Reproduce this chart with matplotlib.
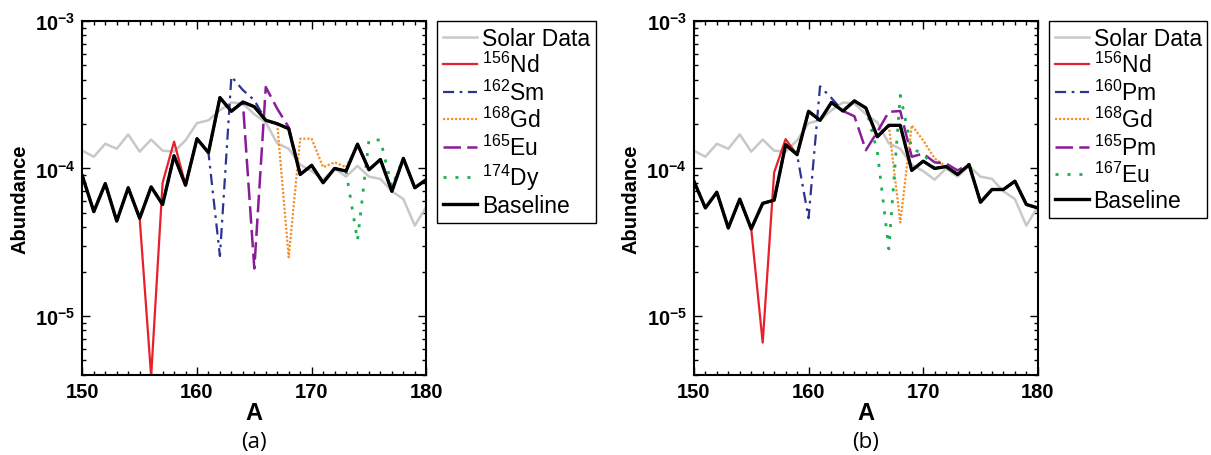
import numpy as np
import matplotlib
matplotlib.use("Agg")
from matplotlib import pyplot as plt
from matplotlib.ticker import FixedLocator, FixedFormatter, MultipleLocator, LogLocator, NullFormatter

plt.rcParams['font.family'] = ['Liberation Sans', 'DejaVu Sans']
plt.rcParams['mathtext.fontset'] = 'custom'
plt.rcParams['mathtext.rm'] = 'Liberation Sans'
plt.rcParams['mathtext.bf'] = 'Liberation Sans:bold'
plt.rcParams['mathtext.default'] = 'regular'

# mass numbers
A = np.arange(150, 181)

# solar abundances (same in both panels)
solar = [1.32e-4, 1.20e-4, 1.47e-4, 1.36e-4, 1.70e-4, 1.30e-4, 1.57e-4, 1.32e-4, 1.30e-4, 1.55e-4,
         2.03e-4, 2.12e-4, 2.48e-4, 2.80e-4, 2.75e-4, 2.33e-4, 2.05e-4, 1.48e-4, 1.36e-4, 1.06e-4,
         9.6e-5, 8.4e-5, 1.0e-4, 8.8e-5, 1.04e-4, 8.8e-5, 8.5e-5, 7.0e-5, 6.2e-5, 4.1e-5, 5.5e-5]

# panel (a) baseline
base_a = [8.9e-5, 5.1e-5, 7.9e-5, 4.4e-5, 7.4e-5, 4.6e-5, 7.5e-5, 5.7e-5, 1.22e-4, 7.7e-5,
          1.59e-4, 1.28e-4, 3.02e-4, 2.44e-4, 2.82e-4, 2.62e-4, 2.12e-4, 2.01e-4, 1.86e-4, 9.1e-5,
          1.05e-4, 8.0e-5, 1.0e-4, 9.6e-5, 1.46e-4, 9.8e-5, 1.15e-4, 7.0e-5, 1.17e-4, 7.4e-5, 8.4e-5]

# panel (a) variations: mass number -> abundance where it differs from baseline
nd156_a = {156: 3.9e-6, 157: 8.0e-5, 158: 1.52e-4}
sm162_a = {162: 2.55e-5, 163: 4.2e-4, 164: 3.4e-4, 165: 2.9e-4}
gd168_a = {168: 2.5e-5, 169: 1.59e-4, 170: 1.59e-4, 171: 1.02e-4, 172: 1.1e-4, 173: 1.02e-4}
eu165_a = {165: 2.1e-5, 166: 3.56e-4, 167: 2.54e-4, 168: 1.9e-4}
dy174_a = {174: 3.25e-5, 175: 1.56e-4, 176: 1.56e-4, 177: 7.5e-5}

# panel (b) baseline
base_b = [8.2e-5, 5.4e-5, 6.9e-5, 3.95e-5, 6.2e-5, 3.9e-5, 5.8e-5, 6.1e-5, 1.45e-4, 1.24e-4,
          2.44e-4, 2.12e-4, 2.8e-4, 2.45e-4, 2.87e-4, 2.57e-4, 1.64e-4, 1.96e-4, 1.96e-4, 9.7e-5,
          1.12e-4, 1.0e-4, 1.03e-4, 9.1e-5, 1.06e-4, 5.9e-5, 7.2e-5, 7.2e-5, 8.2e-5, 5.7e-5, 5.4e-5]

nd156_b = {156: 6.6e-6, 157: 9.4e-5, 158: 1.58e-4}
pm160_b = {160: 4.6e-5, 161: 3.6e-4, 162: 3.0e-4}
gd168_b = {168: 4.3e-5, 169: 1.96e-4, 170: 1.55e-4, 171: 1.17e-4}
pm165_b = {164: 2.26e-4, 165: 1.33e-4, 166: 1.77e-4, 167: 2.42e-4, 168: 2.45e-4, 169: 1.2e-4,
           170: 1.26e-4, 171: 1.1e-4, 172: 1.08e-4, 173: 9.7e-5, 174: 1.07e-4}
eu167_b = {166: 1.3e-4, 167: 2.85e-5, 168: 3.13e-4, 169: 1.36e-4, 170: 1.26e-4}

labels_a = ['Solar Data', r'$^{156}$Nd', r'$^{162}$Sm', r'$^{168}$Gd', r'$^{165}$Eu', r'$^{174}$Dy', 'Baseline']
labels_b = ['Solar Data', r'$^{156}$Nd', r'$^{160}$Pm', r'$^{168}$Gd', r'$^{165}$Pm', r'$^{167}$Eu', 'Baseline']

gray = '#c8c8c8'
red = '#e8202a'
blue = '#2b3590'
orange = '#f5902a'
purple = '#8a1c9a'
green = '#1db052'


def vary(base, changes):
    out = list(base)
    for a, v in changes.items():
        out[a - 150] = v
    return out


def draw(ax, base, variants, labels, tag):
    ax.plot(A, solar, color=gray, lw=1.8, label=labels[0])
    styles = [dict(color=red, lw=1.6, ls='-'),
              dict(color=blue, lw=1.6, dashes=(5, 2.5, 1.2, 2.5)),
              dict(color=orange, lw=1.6, dashes=(1.0, 0.8)),
              dict(color=purple, lw=1.8, dashes=(7, 2.5)),
              dict(color=green, lw=2.0, dashes=(1.1, 3.2))]
    for changes, lab, st in zip(variants, labels[1:6], styles):
        ax.plot(A, vary(base, changes), label=lab, **st)
    ax.plot(A, base, color='black', lw=2.4, label=labels[6])

    ax.set_yscale('log')
    ax.set_xlim(150, 180)
    ax.set_ylim(4e-6, 1e-3)
    ax.xaxis.set_major_locator(FixedLocator([150, 160, 170, 180]))
    ax.xaxis.set_minor_locator(MultipleLocator(1))
    ax.yaxis.set_major_locator(FixedLocator([1e-5, 1e-4, 1e-3]))
    ax.yaxis.set_major_formatter(FixedFormatter([r'$\mathbf{10^{-5}}$', r'$\mathbf{10^{-4}}$', r'$\mathbf{10^{-3}}$']))
    ax.yaxis.set_minor_locator(LogLocator(base=10, subs=np.arange(2, 10)))
    ax.yaxis.set_minor_formatter(NullFormatter())
    ax.tick_params(which='both', direction='in', top=True, right=True, width=1)
    ax.tick_params(which='major', length=6, labelsize=14.5, pad=5)
    ax.tick_params(which='minor', length=3)
    for t in ax.get_xticklabels():
        t.set_fontweight('bold')
    for s in ax.spines.values():
        s.set_linewidth(1.5)
    ax.set_xlabel('A', fontsize=17, fontweight='bold', labelpad=0)
    ax.set_ylabel('Abundance', fontsize=14.5, fontweight='bold', labelpad=4)
    ax.text(0.5, -0.19, tag, transform=ax.transAxes, ha='center', va='center',
            fontsize=16, family='Open Sans')

    leg = ax.legend(loc='upper left', bbox_to_anchor=(1.032, 1.0), borderaxespad=0,
                    fontsize=16.5, fancybox=False, framealpha=1, edgecolor='black',
                    handlelength=1.5, handletextpad=0.2, labelspacing=0.1, borderpad=0.25)
    leg.get_frame().set_linewidth(1.0)


fig = plt.figure(figsize=(12.11, 4.56), dpi=100)
ax1 = fig.add_axes([0.068, 0.176, 0.284, 0.776])
ax2 = fig.add_axes([0.573, 0.176, 0.284, 0.776])

draw(ax1, base_a, [nd156_a, sm162_a, gd168_a, eu165_a, dy174_a], labels_a, '(a)')
draw(ax2, base_b, [nd156_b, pm160_b, gd168_b, pm165_b, eu167_b], labels_b, '(b)')

fig.savefig('out.png', dpi=100)
